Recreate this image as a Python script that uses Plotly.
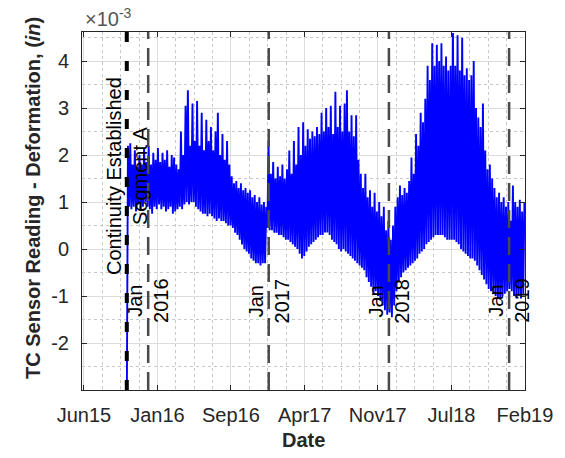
import pandas as pd
import plotly.graph_objects as go

# --- TC sensor deformation, weekly envelope (units of 1e-3 in) ---
sample_start = "2015-10-28"
sample_step_days = 7

upper = [
    2.2, 2.25, 1.8, 2.1, 1.75, 2.0, 1.8, 2.15, 1.85, 2.2,
    1.8, 2.05, 1.9, 2.15, 1.85, 2.05, 1.9, 2.1, 1.75, 2.0,
    1.95, 1.8, 1.7, 2.5, 2.0, 3.05, 3.38, 2.2, 3.1, 2.3,
    3.15, 2.2, 2.9, 2.1, 2.75, 2.3, 2.6, 2.1, 2.5, 2.9,
    2.0, 2.45, 1.9, 2.3, 1.8, 1.55, 1.4, 1.45, 1.3, 1.4,
    1.25, 1.3, 1.2, 1.25, 1.1, 1.15, 1.0, 1.1, 0.95, 1.0,
    0.9, 2.3, 1.6, 1.85, 1.5, 1.75, 1.55, 1.8, 1.5, 1.7,
    2.1, 1.6, 2.3, 1.8, 2.6, 2.0, 2.7, 2.2, 2.55, 2.35,
    2.5, 2.4, 2.6, 2.45, 2.9, 2.5, 3.0, 2.6, 3.05, 2.45,
    3.35, 2.6, 3.05, 2.5, 3.1, 3.38, 2.5, 2.85, 2.4, 2.85,
    1.9, 1.6, 1.3, 1.6, 1.1, 1.25, 0.9, 1.2, 0.8, 1.0,
    0.7, 0.9, 0.4, 0.6, 0.2, 0.5, 0.9, 1.1, 1.35, 1.15,
    1.3, 1.2, 1.45, 1.95, 1.6, 2.45, 2.2, 2.9, 2.7, 3.2,
    3.9, 3.6, 4.38, 3.9, 4.35, 4.0, 4.38, 3.9, 4.1, 3.8,
    3.9, 4.6, 3.9, 4.55, 3.8, 4.5, 3.7, 3.85, 3.6, 3.7,
    4.0, 3.0, 2.8, 2.6, 3.1, 2.1, 1.7, 1.8, 1.5, 1.3,
    1.1, 1.2, 1.0, 1.1, 0.9, 1.0, 0.6, 1.35, 1.0, 0.9,
    1.05, 0.8, 1.0,
]

lower = [
    -3.4, 0.9, 0.85, 0.9, 0.8, 0.95, 0.85, 0.9, 1.0, 0.9,
    0.85, 0.75, 0.9, 0.85, 0.95, 0.85, 0.9, 0.8, 0.85, 0.9,
    0.75, 0.8, 0.85, 0.9, 0.85, 0.95, 1.0, 0.95, 1.0, 1.0,
    0.9, 0.85, 0.8, 0.75, 0.75, 0.7, 0.75, 0.7, 0.65, 0.6,
    0.65, 0.6, 0.6, 0.55, 0.5, 0.5, 0.45, 0.35, 0.3, 0.2,
    0.1, 0.0, -0.05, -0.1, -0.2, -0.25, -0.3, -0.3, -0.35, -0.3,
    -0.3, 0.45, 0.4, 0.4, 0.35, 0.35, 0.3, 0.3, 0.25, 0.2,
    0.2, 0.15, 0.1, 0.05, 0.0, -0.1, -0.2, -0.15, -0.05, 0.05,
    0.1, 0.15, 0.2, 0.25, 0.3, 0.3, 0.35, 0.35, 0.3, 0.2,
    0.15, 0.1, 0.0, -0.05, 0.0, -0.05, -0.1, -0.15, -0.2, -0.25,
    -0.3, -0.35, -0.4, -0.45, -0.6, -0.7, -0.8, -0.95, -0.9, -1.0,
    -1.1, -1.2, -1.3, -1.4, -1.35, -1.45, -1.2, -0.9, -0.7, -0.6,
    -0.5, -0.45, -0.4, -0.35, -0.3, -0.25, -0.2, -0.1, -0.05, 0.0,
    0.1, 0.15, 0.2, 0.25, 0.3, 0.3, 0.3, 0.3, 0.25, 0.2,
    0.2, 0.2, 0.2, 0.15, 0.1, 0.0, -0.05, -0.1, -0.15, -0.2,
    -0.2, -0.25, -0.35, -0.45, -0.55, -0.65, -0.75, -0.85, -0.9, -0.95,
    -1.0, -1.05, -1.05, -1.0, -0.95, -0.9, -0.85, -0.9, -1.0, -1.05,
    -1.0, -1.05, -0.95,
]

# --- event markers ---
continuity_date = "2015-10-28"
continuity_label = "Continuity Established<br>Segment A"
year_dates = ["2016-01-01", "2017-01-01", "2018-01-01", "2019-01-01"]
year_labels = ["Jan<br>2016", "Jan<br>2017", "Jan<br>2018", "Jan<br>2019"]

# --- axis ticks ---
x_range = ["2015-06-14", "2019-02-18 06:00"]
tick_dates = ["2015-06-20", "2016-01-29", "2016-09-08", "2017-04-20",
              "2017-11-28", "2018-07-10", "2019-02-18"]
tick_labels = ["Jun15", "Jan16", "Sep16", "Apr17", "Nov17", "Jul18", "Feb19"]
y_ticks = [-2, -1, 0, 1, 2, 3, 4]
y_minor = [-2.5, -1.5, -0.5, 0.5, 1.5, 2.5, 3.5, 4.5]
y_range = [-3.0, 4.62]
scale = 1e-3

# zig-zag trace: each week swings from its low reading to its high reading
t0 = pd.Timestamp(sample_start)
xs, ys = [], []
for i, (lo, hi) in enumerate(zip(lower, upper)):
    d = t0 + pd.Timedelta(days=sample_step_days * i)
    xs.append(d)
    ys.append(lo * scale)
    xs.append(d + pd.Timedelta(days=sample_step_days / 2))
    ys.append(hi * scale)

# minor grid: three subdivisions between consecutive major ticks
tk = pd.to_datetime(tick_dates)
minor_dates = []
for a, b in zip(tk[:-1], tk[1:]):
    for k in (1, 2, 3):
        minor_dates.append(a + (b - a) * k / 4)

FONT = "Liberation Sans, Arial, sans-serif"
AXC = "#262626"

fig = go.Figure()
fig.add_trace(go.Scatter(x=xs, y=ys, mode="lines",
                         line=dict(color="rgb(0,0,255)", width=1.9),
                         showlegend=False, hoverinfo="skip"))

shapes = [dict(type="line", xref="x", yref="paper", x0=continuity_date, x1=continuity_date,
               y0=0, y1=1, layer="above",
               line=dict(color="black", width=4, dash="10px,19px"))]
for d in year_dates:
    shapes.append(dict(type="line", xref="x", yref="paper", x0=d, x1=d, y0=0, y1=1,
                       layer="above", line=dict(color="#4a4a4a", width=2.5, dash="18px,9px")))

annotations = [
    dict(x=continuity_date, y=1.55 * scale, xref="x", yref="y", text=continuity_label,
         textangle=-90, showarrow=False, xanchor="center", yanchor="middle",
         font=dict(family=FONT, size=20, color="black")),
]
for d, lab in zip(year_dates, year_labels):
    annotations.append(dict(x=d, y=-1.1 * scale, xref="x", yref="y", text=lab,
                            textangle=-90, showarrow=False, xanchor="center", yanchor="middle",
                            font=dict(family=FONT, size=20, color="black")))
annotations += [
    dict(x=0.5, y=0, xref="paper", yref="paper", yshift=-50, text="<b>Date</b>",
         showarrow=False, xanchor="center", yanchor="middle",
         font=dict(family=FONT, size=20, color=AXC)),
    dict(x=0, y=0.5, xref="paper", yref="paper", xshift=-49, yshift=13,
         text="<b>TC Sensor Reading - Deformation, (<i>in</i>)</b>", textangle=-90,
         showarrow=False, xanchor="center", yanchor="middle",
         font=dict(family=FONT, size=20, color=AXC)),
    dict(x=0, y=1, xref="paper", yref="paper", xshift=1, text="×10<sup>-3</sup>",
         showarrow=False, xanchor="left", yanchor="bottom",
         font=dict(family=FONT, size=20, color="#555555")),
]

fig.update_layout(
    width=565, height=458,
    margin=dict(l=82, r=38, t=32, b=68),
    paper_bgcolor="white", plot_bgcolor="white",
    font=dict(family=FONT, size=20, color=AXC),
    shapes=shapes, annotations=annotations,
    xaxis=dict(type="date", range=x_range, tickmode="array",
               tickvals=tick_dates, ticktext=tick_labels,
               ticks="inside", ticklen=5, tickcolor=AXC,
               showline=True, linecolor=AXC, linewidth=1, mirror="ticks",
               showgrid=True, gridcolor="#dcdcdc", gridwidth=1, zeroline=False,
               ticklabelstandoff=7,
               minor=dict(tickvals=minor_dates, showgrid=True, gridcolor="#c8c8c8",
                          griddash="dot", gridwidth=1, ticks="")),
    yaxis=dict(range=[v * scale for v in y_range], tickmode="array",
               tickvals=[v * scale for v in y_ticks], ticktext=[str(v) for v in y_ticks],
               ticks="inside", ticklen=5, tickcolor=AXC,
               showline=True, linecolor=AXC, linewidth=1, mirror="ticks",
               showgrid=True, gridcolor="#dcdcdc", gridwidth=1, zeroline=False,
               ticklabelstandoff=8,
               minor=dict(tickvals=[v * scale for v in y_minor], showgrid=True,
                          gridcolor="#c8c8c8", griddash="dot", gridwidth=1, ticks="")),
)

fig.write_html("out.html")
